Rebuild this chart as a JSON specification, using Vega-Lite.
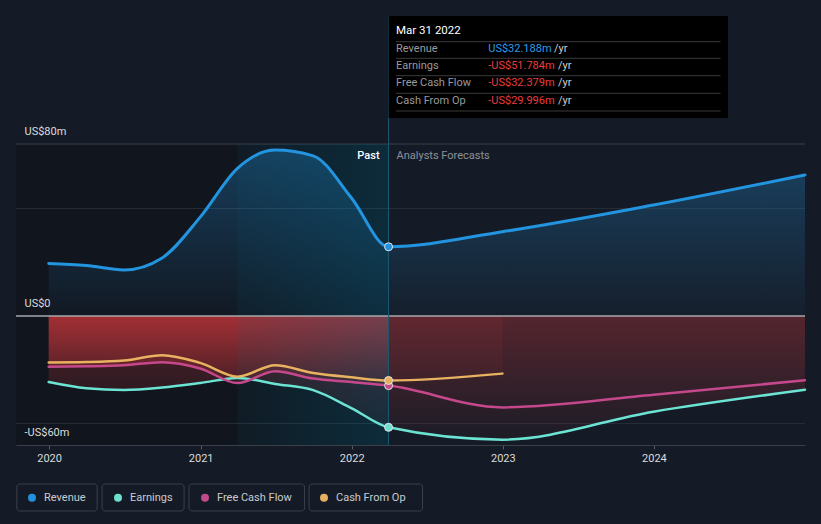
{
  "$schema": "https://vega.github.io/schema/vega-lite/v6.json",
  "width": 789,
  "height": 430,
  "autosize": {"type": "none"},
  "padding": {"left": 16, "top": 15, "right": 16, "bottom": 79},
  "background": "#151b26",
  "config": {"view": {"stroke": null}, "font": "Roboto"},
  "data": {
    "values": [
      {"date": "2019-12-31", "series": "Revenue", "value": 24.4},
      {"date": "2020-03-31", "series": "Revenue", "value": 23.5},
      {"date": "2020-06-30", "series": "Revenue", "value": 21.4},
      {"date": "2020-09-30", "series": "Revenue", "value": 27.0},
      {"date": "2020-12-31", "series": "Revenue", "value": 46.0},
      {"date": "2021-03-31", "series": "Revenue", "value": 68.7},
      {"date": "2021-06-30", "series": "Revenue", "value": 77.2},
      {"date": "2021-09-30", "series": "Revenue", "value": 74.5},
      {"date": "2021-12-31", "series": "Revenue", "value": 55.0},
      {"date": "2022-03-31", "series": "Revenue", "value": 32.188},
      {"date": "2022-12-31", "series": "Revenue", "value": 39.2},
      {"date": "2023-12-31", "series": "Revenue", "value": 51.6},
      {"date": "2024-12-31", "series": "Revenue", "value": 65.6},
      {"date": "2019-12-31", "series": "Earnings", "value": -30.7},
      {"date": "2020-03-31", "series": "Earnings", "value": -33.6},
      {"date": "2020-06-30", "series": "Earnings", "value": -34.4},
      {"date": "2020-09-30", "series": "Earnings", "value": -33.3},
      {"date": "2020-12-31", "series": "Earnings", "value": -31.2},
      {"date": "2021-03-31", "series": "Earnings", "value": -28.8},
      {"date": "2021-06-30", "series": "Earnings", "value": -31.6},
      {"date": "2021-09-30", "series": "Earnings", "value": -34.5},
      {"date": "2021-12-31", "series": "Earnings", "value": -42.8},
      {"date": "2022-03-31", "series": "Earnings", "value": -51.784},
      {"date": "2022-12-31", "series": "Earnings", "value": -57.5},
      {"date": "2023-12-31", "series": "Earnings", "value": -44.5},
      {"date": "2024-12-31", "series": "Earnings", "value": -34.3},
      {"date": "2019-12-31", "series": "Free Cash Flow", "value": -23.6},
      {"date": "2020-03-31", "series": "Free Cash Flow", "value": -23.4},
      {"date": "2020-06-30", "series": "Free Cash Flow", "value": -22.9},
      {"date": "2020-09-30", "series": "Free Cash Flow", "value": -21.5},
      {"date": "2020-12-31", "series": "Free Cash Flow", "value": -24.4},
      {"date": "2021-03-31", "series": "Free Cash Flow", "value": -31.2},
      {"date": "2021-06-30", "series": "Free Cash Flow", "value": -25.7},
      {"date": "2021-09-30", "series": "Free Cash Flow", "value": -29.1},
      {"date": "2021-12-31", "series": "Free Cash Flow", "value": -30.7},
      {"date": "2022-03-31", "series": "Free Cash Flow", "value": -32.379},
      {"date": "2022-12-31", "series": "Free Cash Flow", "value": -42.5},
      {"date": "2023-12-31", "series": "Free Cash Flow", "value": -36.6},
      {"date": "2024-12-31", "series": "Free Cash Flow", "value": -29.9},
      {"date": "2019-12-31", "series": "Cash From Op", "value": -21.6},
      {"date": "2020-03-31", "series": "Cash From Op", "value": -21.4},
      {"date": "2020-06-30", "series": "Cash From Op", "value": -20.7},
      {"date": "2020-09-30", "series": "Cash From Op", "value": -18.2},
      {"date": "2020-12-31", "series": "Cash From Op", "value": -21.8},
      {"date": "2021-03-31", "series": "Cash From Op", "value": -28.2},
      {"date": "2021-06-30", "series": "Cash From Op", "value": -22.9},
      {"date": "2021-09-30", "series": "Cash From Op", "value": -26.5},
      {"date": "2021-12-31", "series": "Cash From Op", "value": -28.5},
      {"date": "2022-03-31", "series": "Cash From Op", "value": -29.996},
      {"date": "2022-12-31", "series": "Cash From Op", "value": -26.8}
    ]
  },
  "layer": [
    {
      "mark": {"type": "line", "interpolate": "monotone", "opacity": 0},
      "encoding": {
        "x": {
          "field": "date", "type": "temporal",
          "scale": {"type": "utc", "domain": [{"year": 2019, "month": 10, "date": 13, "utc": true}, {"year": 2024, "month": 12, "date": 31, "utc": true}]},
          "axis": {
            "values": [{"year": 2020, "utc": true}, {"year": 2021, "utc": true}, {"year": 2022, "utc": true}, {"year": 2023, "utc": true}, {"year": 2024, "utc": true}],
            "format": "%Y", "title": null, "grid": false,
            "domainColor": "#3a3f48", "tickColor": "#555a63", "tickSize": 4,
            "labelColor": "#dcdcdc", "labelFont": "Roboto", "labelFontSize": 11, "labelPadding": 3,
            "labelFlush": false, "labelOverlap": false, "zindex": 1
          }
        },
        "y": {
          "field": "value", "type": "quantitative",
          "scale": {"domain": [-60, 140], "nice": false, "zero": false},
          "axis": {
            "values": [80, 0, -60],
            "labelExpr": "datum.value === 0 ? 'US$0' : (datum.value > 0 ? 'US$' + datum.value + 'm' : '-US$' + (-datum.value) + 'm')",
            "title": null, "grid": false, "domain": false, "ticks": false, "tickSize": 0,
            "labelAlign": "left", "labelBaseline": "middle", "labelPadding": -8, "labelOffset": -12.5,
            "labelColor": "#dcdcdc", "labelFont": "Roboto", "labelFontSize": 11,
            "labelFlush": false, "labelOverlap": false, "labelBound": false, "zindex": 1
          }
        },
        "detail": {"field": "series"}
      }
    },
    {
      "data": {"values": [{}]},
      "mark": {"type": "rect", "fill": "#11151d"},
      "encoding": {
        "x": {"datum": {"year": 2019, "month": 10, "date": 13, "utc": true}, "type": "temporal"},
        "x2": {"datum": {"year": 2022, "month": 3, "date": 31, "utc": true}},
        "y": {"datum": -60, "type": "quantitative"},
        "y2": {"datum": 80}
      }
    },
    {
      "data": {"values": [{}]},
      "mark": {"type": "rule", "stroke": "#3b414b", "strokeWidth": 1},
      "encoding": {"y": {"datum": 80, "type": "quantitative"}}
    },
    {
      "data": {"values": [{}]},
      "mark": {"type": "rule", "stroke": "#262c36", "strokeWidth": 1},
      "encoding": {"y": {"datum": 50, "type": "quantitative"}}
    },
    {
      "data": {"values": [{}]},
      "mark": {"type": "rule", "stroke": "#262c36", "strokeWidth": 1},
      "encoding": {"y": {"datum": -50, "type": "quantitative"}}
    },
    {
      "transform": [{"filter": "datum.series === 'Revenue'"}],
      "mark": {
        "type": "area", "interpolate": "monotone",
        "fill": {"gradient": "linear", "x1": 0, "y1": 0, "x2": 0, "y2": 1,
          "stops": [{"offset": 0, "color": "rgba(35,148,223,0.32)"}, {"offset": 1, "color": "rgba(35,148,223,0.03)"}]}
      },
      "encoding": {
        "x": {"field": "date", "type": "temporal"},
        "y": {"field": "value", "type": "quantitative"},
        "y2": {"datum": 0}
      }
    },
    {
      "transform": [{"filter": "datum.series === 'Earnings'"}],
      "mark": {
        "type": "area", "interpolate": "monotone",
        "fill": {"gradient": "linear", "x1": 0, "y1": 0, "x2": 0, "y2": 1,
          "stops": [{"offset": 0, "color": "rgba(226,59,63,0.31)"}, {"offset": 1, "color": "rgba(226,59,63,0.03)"}]}
      },
      "encoding": {
        "x": {"field": "date", "type": "temporal"},
        "y": {"field": "value", "type": "quantitative"},
        "y2": {"datum": 0}
      }
    },
    {
      "transform": [{"filter": "datum.series === 'Free Cash Flow' && time(datum.date) <= utc(2022, 2, 31)"}],
      "mark": {
        "type": "area", "interpolate": "monotone",
        "fill": {"gradient": "linear", "x1": 0, "y1": 0, "x2": 0, "y2": 1,
          "stops": [{"offset": 0, "color": "rgba(226,59,63,0.55)"}, {"offset": 1, "color": "rgba(226,59,63,0.1)"}]}
      },
      "encoding": {
        "x": {"field": "date", "type": "temporal"},
        "y": {"field": "value", "type": "quantitative"},
        "y2": {"datum": 0}
      }
    },
    {
      "transform": [{"filter": "datum.series === 'Cash From Op' && time(datum.date) >= utc(2022, 2, 31)"}],
      "mark": {
        "type": "area", "interpolate": "monotone",
        "fill": {"gradient": "linear", "x1": 0, "y1": 0, "x2": 0, "y2": 1,
          "stops": [{"offset": 0, "color": "rgba(226,59,63,0.09)"}, {"offset": 1, "color": "rgba(226,59,63,0.05)"}]}
      },
      "encoding": {
        "x": {"field": "date", "type": "temporal"},
        "y": {"field": "value", "type": "quantitative"},
        "y2": {"datum": 0}
      }
    },
    {
      "data": {"values": [{}]},
      "mark": {
        "type": "rect",
        "fill": {"gradient": "linear", "x1": 0, "y1": 0, "x2": 1, "y2": 0,
          "stops": [{"offset": 0, "color": "rgba(0,105,140,0.08)"}, {"offset": 1, "color": "rgba(0,105,140,0.27)"}]}
      },
      "encoding": {
        "x": {"datum": {"year": 2021, "month": 3, "date": 31, "utc": true}, "type": "temporal"},
        "x2": {"datum": {"year": 2022, "month": 3, "date": 31, "utc": true}},
        "y": {"datum": -60, "type": "quantitative"},
        "y2": {"datum": 80}
      }
    },
    {
      "data": {"values": [{}]},
      "mark": {"type": "rule", "stroke": "#a9a9ad", "strokeWidth": 1.5},
      "encoding": {"y": {"datum": 0, "type": "quantitative"}}
    },
    {
      "mark": {"type": "line", "interpolate": "monotone", "strokeCap": "round"},
      "encoding": {
        "x": {"field": "date", "type": "temporal"},
        "y": {"field": "value", "type": "quantitative"},
        "stroke": {
          "field": "series", "type": "nominal",
          "scale": {"domain": ["Cash From Op", "Earnings", "Free Cash Flow", "Revenue"], "range": ["#e9b260", "#6ce4d4", "#c5488c", "#2394df"]},
          "legend": null
        },
        "strokeWidth": {"condition": {"test": "datum.series === 'Revenue'", "value": 3}, "value": 2.5}
      }
    },
    {
      "data": {"values": [{}]},
      "mark": {"type": "rule", "stroke": "#1c5a70", "strokeWidth": 1},
      "encoding": {
        "x": {"datum": {"year": 2022, "month": 3, "date": 31, "utc": true}, "type": "temporal"},
        "y": {"datum": -60, "type": "quantitative"},
        "y2": {"datum": 139.5}
      }
    },
    {
      "transform": [{"filter": "time(datum.date) === utc(2022, 2, 31)"}],
      "mark": {"type": "point", "filled": true, "opacity": 1, "size": 64, "stroke": "#e4e4e4", "strokeWidth": 1},
      "encoding": {
        "x": {"field": "date", "type": "temporal"},
        "y": {"field": "value", "type": "quantitative"},
        "color": {
          "field": "series", "type": "nominal",
          "scale": {"domain": ["Revenue", "Earnings", "Free Cash Flow", "Cash From Op"], "range": ["#2391dd", "#6ee0d0", "#c14a8a", "#e6af60"]},
          "legend": {
            "orient": "none", "legendX": 1, "legendY": 477, "direction": "horizontal", "title": null,
            "padding": 0, "symbolType": "circle", "symbolSize": 64, "symbolStrokeWidth": 0, "symbolOpacity": 1,
            "symbolOffset": 9.5, "labelOffset": 6.5, "columnPadding": 17,
            "labelFont": "Roboto", "labelFontSize": 11, "labelColor": "#c8cbd0"
          }
        }
      }
    },
    {
      "data": {"values": [{}]},
      "mark": {"type": "rect", "fill": "transparent", "stroke": "#3a404b", "strokeWidth": 1, "cornerRadius": 3},
      "encoding": {
        "x": {"datum": {"year": 2019, "month": 10, "date": 15, "utc": true}, "type": "temporal"},
        "x2": {"datum": {"year": 2020, "month": 4, "date": 26, "utc": true}},
        "y": {"datum": -78.14, "type": "quantitative"},
        "y2": {"datum": -90.7}
      }
    },
    {
      "data": {"values": [{}]},
      "mark": {"type": "rect", "fill": "transparent", "stroke": "#3a404b", "strokeWidth": 1, "cornerRadius": 3},
      "encoding": {
        "x": {"datum": {"year": 2020, "month": 5, "date": 8, "utc": true}, "type": "temporal"},
        "x2": {"datum": {"year": 2020, "month": 11, "date": 22, "utc": true}},
        "y": {"datum": -78.14, "type": "quantitative"},
        "y2": {"datum": -90.7}
      }
    },
    {
      "data": {"values": [{}]},
      "mark": {"type": "rect", "fill": "transparent", "stroke": "#3a404b", "strokeWidth": 1, "cornerRadius": 3},
      "encoding": {
        "x": {"datum": {"year": 2020, "month": 12, "date": 4, "utc": true}, "type": "temporal"},
        "x2": {"datum": {"year": 2021, "month": 9, "date": 9, "utc": true}},
        "y": {"datum": -78.14, "type": "quantitative"},
        "y2": {"datum": -90.7}
      }
    },
    {
      "data": {"values": [{}]},
      "mark": {"type": "rect", "fill": "transparent", "stroke": "#3a404b", "strokeWidth": 1, "cornerRadius": 3},
      "encoding": {
        "x": {"datum": {"year": 2021, "month": 9, "date": 20, "utc": true}, "type": "temporal"},
        "x2": {"datum": {"year": 2022, "month": 6, "date": 21, "utc": true}},
        "y": {"datum": -78.14, "type": "quantitative"},
        "y2": {"datum": -90.7}
      }
    },
    {
      "data": {"values": [{}]},
      "mark": {"type": "text", "text": "Past", "align": "right", "baseline": "middle", "dx": -9, "font": "Roboto", "fontSize": 11, "fontWeight": 500, "fill": "#ffffff"},
      "encoding": {
        "x": {"datum": {"year": 2022, "month": 3, "date": 31, "utc": true}, "type": "temporal"},
        "y": {"datum": 74.4, "type": "quantitative"}
      }
    },
    {
      "data": {"values": [{}]},
      "mark": {"type": "text", "text": "Analysts Forecasts", "align": "left", "baseline": "middle", "dx": 8, "font": "Roboto", "fontSize": 11, "fill": "#8c9199"},
      "encoding": {
        "x": {"datum": {"year": 2022, "month": 3, "date": 31, "utc": true}, "type": "temporal"},
        "y": {"datum": 74.4, "type": "quantitative"}
      }
    },
    {
      "data": {"values": [{}]},
      "mark": {"type": "rect", "fill": "#000000"},
      "encoding": {
        "x": {"datum": {"year": 2022, "month": 3, "date": 31, "utc": true}, "type": "temporal"},
        "x2": {"datum": {"year": 2024, "month": 6, "date": 28, "utc": true}},
        "y": {"datum": 139.5, "type": "quantitative"},
        "y2": {"datum": 92.1}
      }
    },
    {
      "data": {"values": [{}]},
      "mark": {"type": "rule", "stroke": "#3a3a3a", "strokeWidth": 1},
      "encoding": {
        "x": {"datum": {"year": 2022, "month": 4, "date": 18, "utc": true}, "type": "temporal"},
        "x2": {"datum": {"year": 2024, "month": 6, "date": 10, "utc": true}},
        "y": {"datum": 127.58, "type": "quantitative"}
      }
    },
    {
      "data": {"values": [{}]},
      "mark": {"type": "rule", "stroke": "#3a3a3a", "strokeWidth": 1},
      "encoding": {
        "x": {"datum": {"year": 2022, "month": 4, "date": 18, "utc": true}, "type": "temporal"},
        "x2": {"datum": {"year": 2024, "month": 6, "date": 10, "utc": true}},
        "y": {"datum": 119.86, "type": "quantitative"}
      }
    },
    {
      "data": {"values": [{}]},
      "mark": {"type": "rule", "stroke": "#3a3a3a", "strokeWidth": 1},
      "encoding": {
        "x": {"datum": {"year": 2022, "month": 4, "date": 18, "utc": true}, "type": "temporal"},
        "x2": {"datum": {"year": 2024, "month": 6, "date": 10, "utc": true}},
        "y": {"datum": 111.77, "type": "quantitative"}
      }
    },
    {
      "data": {"values": [{}]},
      "mark": {"type": "rule", "stroke": "#3a3a3a", "strokeWidth": 1},
      "encoding": {
        "x": {"datum": {"year": 2022, "month": 4, "date": 18, "utc": true}, "type": "temporal"},
        "x2": {"datum": {"year": 2024, "month": 6, "date": 10, "utc": true}},
        "y": {"datum": 103.58, "type": "quantitative"}
      }
    },
    {
      "data": {"values": [{}]},
      "mark": {"type": "rule", "stroke": "#3a3a3a", "strokeWidth": 1},
      "encoding": {
        "x": {"datum": {"year": 2022, "month": 4, "date": 18, "utc": true}, "type": "temporal"},
        "x2": {"datum": {"year": 2024, "month": 6, "date": 10, "utc": true}},
        "y": {"datum": 95.35, "type": "quantitative"}
      }
    },
    {
      "data": {"values": [{}]},
      "mark": {"type": "text", "text": "Mar 31 2022", "align": "left", "baseline": "middle", "dx": 7.5, "font": "Roboto", "fontSize": 11.5, "fill": "#ffffff"},
      "encoding": {
        "x": {"datum": {"year": 2022, "month": 3, "date": 31, "utc": true}, "type": "temporal"},
        "y": {"datum": 132.56, "type": "quantitative"}
      }
    },
    {
      "data": {"values": [{}]},
      "mark": {"type": "text", "text": ["Revenue", "Earnings", "Free Cash Flow", "Cash From Op"], "lineHeight": 17.23, "align": "left", "baseline": "middle", "dx": 7.5, "font": "Roboto", "fontSize": 11, "fill": "#9a9a9a"},
      "encoding": {
        "x": {"datum": {"year": 2022, "month": 3, "date": 31, "utc": true}, "type": "temporal"},
        "y": {"datum": 124.19, "type": "quantitative"}
      }
    },
    {
      "data": {"values": [{}]},
      "mark": {"type": "text", "text": ["US$32.188m", "", "", ""], "lineHeight": 17.23, "align": "left", "baseline": "middle", "dx": 99.7, "font": "Roboto", "fontSize": 11, "fill": "#2b9be8"},
      "encoding": {
        "x": {"datum": {"year": 2022, "month": 3, "date": 31, "utc": true}, "type": "temporal"},
        "y": {"datum": 124.19, "type": "quantitative"}
      }
    },
    {
      "data": {"values": [{}]},
      "mark": {"type": "text", "text": ["", "-US$51.784m", "-US$32.379m", "-US$29.996m"], "lineHeight": 17.23, "align": "left", "baseline": "middle", "dx": 99.7, "font": "Roboto", "fontSize": 11, "fill": "#ea3c3c"},
      "encoding": {
        "x": {"datum": {"year": 2022, "month": 3, "date": 31, "utc": true}, "type": "temporal"},
        "y": {"datum": 124.19, "type": "quantitative"}
      }
    },
    {
      "data": {"values": [{}]},
      "mark": {"type": "text", "text": ["/yr", "", "", ""], "lineHeight": 17.23, "align": "left", "baseline": "middle", "dx": 165.4, "font": "Roboto", "fontSize": 11, "fill": "#cfcfcf"},
      "encoding": {
        "x": {"datum": {"year": 2022, "month": 3, "date": 31, "utc": true}, "type": "temporal"},
        "y": {"datum": 124.19, "type": "quantitative"}
      }
    },
    {
      "data": {"values": [{}]},
      "mark": {"type": "text", "text": ["", "/yr", "/yr", "/yr"], "lineHeight": 17.23, "align": "left", "baseline": "middle", "dx": 169.4, "font": "Roboto", "fontSize": 11, "fill": "#cfcfcf"},
      "encoding": {
        "x": {"datum": {"year": 2022, "month": 3, "date": 31, "utc": true}, "type": "temporal"},
        "y": {"datum": 124.19, "type": "quantitative"}
      }
    }
  ]
}
